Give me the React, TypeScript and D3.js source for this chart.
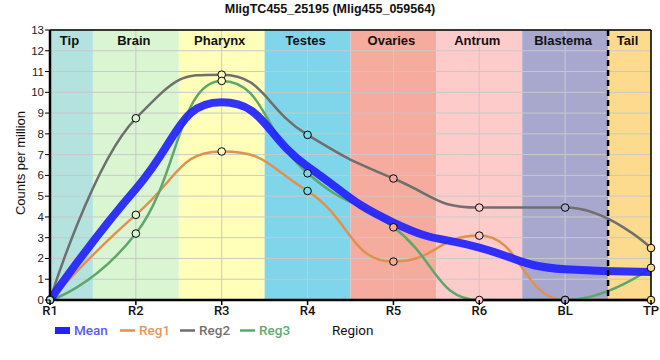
import React from "react";
import * as d3 from "d3";

const categories = ["R1", "R2", "R3", "R4", "R5", "R6", "BL", "TP"];
const reg1 = [0, 4.1, 7.15, 5.25, 1.85, 3.1, 0, 0];
const reg2 = [0, 8.75, 10.85, 7.95, 5.85, 4.45, 4.45, 2.5];
const reg3 = [0, 3.2, 10.55, 6.1, 3.5, 0, 0, 1.55];
const meanVals = [0, 5.35, 9.52, 6.43, 3.73, 2.52, 1.48, 1.35];

const regionNames = ["Tip", "Brain", "Pharynx", "Testes", "Ovaries", "Antrum", "Blastema", "Tail"];
const regionColors = ["#b3e2df", "#d9f5d1", "#ffffb9", "#7fd5ea", "#f5ab9d", "#fecbcb", "#a8a8cf", "#fddb8e"];
const yTicks = d3.range(0, 14);

const series = [
  { name: "Reg1", values: reg1, color: "#e09150", text: "#e8955a" },
  { name: "Reg2", values: reg2, color: "#6f6f6f", text: "#737373" },
  { name: "Reg3", values: reg3, color: "#5ea76b", text: "#62ab70" },
];

const W = 660;
const H = 360;
const left = 50;
const right = 651;
const top = 30;
const bottom = 300;

// smoothed spline: long control handles, kept flat at extremes
function spline(pts: [number, number][]) {
  const sm = 1;
  const p = d3.path();
  p.moveTo(pts[0][0], pts[0][1]);
  let prevRight: [number, number] = pts[0];
  for (let i = 1; i < pts.length; i++) {
    const [x, yv] = pts[i];
    let lc: [number, number] = [x, yv];
    let rc: [number, number] = [x, yv];
    if (i < pts.length - 1) {
      const [lx, ly] = pts[i - 1];
      const [nx, ny] = pts[i + 1];
      let lcx = (sm * x + lx) / (sm + 1);
      let lcy = (sm * yv + ly) / (sm + 1);
      let rcx = (sm * x + nx) / (sm + 1);
      let rcy = (sm * yv + ny) / (sm + 1);
      const corr = ((rcy - lcy) * (rcx - x)) / (rcx - lcx) + yv - rcy;
      lcy += corr;
      rcy += corr;
      if (lcy > ly && lcy > yv) {
        lcy = Math.max(ly, yv);
        rcy = 2 * yv - lcy;
      } else if (lcy < ly && lcy < yv) {
        lcy = Math.min(ly, yv);
        rcy = 2 * yv - lcy;
      }
      if (rcy > ny && rcy > yv) {
        rcy = Math.max(ny, yv);
        lcy = 2 * yv - rcy;
      } else if (rcy < ny && rcy < yv) {
        rcy = Math.min(ny, yv);
        lcy = 2 * yv - rcy;
      }
      lc = [lcx, lcy];
      rc = [rcx, rcy];
    }
    p.bezierCurveTo(prevRight[0], prevRight[1], lc[0], lc[1], x, yv);
    prevRight = rc;
  }
  return p.toString();
}

const App = () => {
  const xi = d3.scaleLinear().domain([0, categories.length - 1]).range([left, right]);
  const y = d3.scaleLinear().domain([0, 13]).range([bottom, top]);

  const path = (vals: number[]) => spline(vals.map((v, i) => [xi(i), y(v)] as [number, number]));

  // region bands, half a step either side of each category
  const bands = regionNames.map((name, i) => ({
    name,
    color: regionColors[i],
    x0: xi(Math.max(0, i - 0.5)),
    x1: xi(Math.min(categories.length - 1, i + 0.5)),
  }));

  return (
    <svg
      width={W}
      height={H}
      style={{ position: "absolute", left: 0, top: 0, background: "#fff" }}
    >
      <text
        x={330}
        y={13}
        textAnchor="middle"
        fontFamily="Liberation Sans, Arial"
        fontWeight="bold"
        fontSize={12.5}
        fill="#111"
      >
        MligTC455_25195 (Mlig455_059564)
      </text>

      {bands.map((b) => (
        <rect key={b.name} x={b.x0} y={top} width={b.x1 - b.x0} height={bottom - top} fill={b.color} />
      ))}

      {/* grid */}
      {yTicks.map((t) => (
        <line key={"h" + t} x1={left} x2={right} y1={y(t)} y2={y(t)} stroke="#c9c9c9" strokeWidth={1} />
      ))}
      {categories.map((c, i) => (
        <line key={"v" + c} x1={xi(i)} x2={xi(i)} y1={top} y2={bottom} stroke="#c9c9c9" strokeWidth={1} />
      ))}

      {bands.map((b) => (
        <text
          key={"l" + b.name}
          x={(b.x0 + b.x1) / 2 - 2}
          y={45}
          textAnchor="middle"
          fontFamily="Liberation Sans, Arial"
          fontWeight="bold"
          fontSize={13}
          fill="#111"
        >
          {b.name}
        </text>
      ))}

      {/* series lines */}
      {series.map((s) => (
        <path key={s.name} d={path(s.values)} fill="none" stroke={s.color} strokeWidth={2.5} />
      ))}
      <path d={path(meanVals)} fill="none" stroke="#2222ff" strokeOpacity={0.92} strokeWidth={8} />

      {/* dashed boundary */}
      <line
        x1={xi(6.5)}
        x2={xi(6.5)}
        y1={top}
        y2={bottom}
        stroke="#000"
        strokeWidth={2.5}
        strokeDasharray="6,4"
      />

      {/* frame */}
      <line x1={left} x2={right} y1={top} y2={top} stroke="#000" strokeWidth={1.5} />
      <line x1={right} x2={right} y1={top} y2={bottom} stroke="#000" strokeWidth={1.5} />
      <line x1={left} x2={left} y1={top} y2={bottom + 1} stroke="#000" strokeWidth={2.5} />
      <line x1={left - 1} x2={right} y1={bottom} y2={bottom} stroke="#000" strokeWidth={2.5} />

      {/* points */}
      {series.map((s) =>
        s.values.map((v, i) => (
          <circle
            key={s.name + i}
            cx={xi(i)}
            cy={y(v)}
            r={3.8}
            fill={regionColors[i]}
            stroke="#000"
            strokeWidth={1}
          />
        ))
      )}

      {/* y axis */}
      {yTicks.map((t) => (
        <g key={"yt" + t}>
          <line x1={left - 5} x2={left} y1={y(t)} y2={y(t)} stroke="#000" strokeWidth={1} />
          <text
            x={left - 6}
            y={y(t) + 4}
            textAnchor="end"
            fontFamily="Liberation Sans, Arial"
            fontSize={11.5}
            fill="#222"
          >
            {t}
          </text>
        </g>
      ))}
      <text
        transform="translate(25,163) rotate(-90)"
        textAnchor="middle"
        fontFamily="Liberation Sans, Arial"
        fontSize={13}
        fill="#111"
      >
        Counts per million
      </text>

      {/* x axis */}
      {categories.map((c, i) => (
        <g key={"xt" + c}>
          <line x1={xi(i)} x2={xi(i)} y1={bottom} y2={bottom + 5} stroke="#000" strokeWidth={1.5} />
          <text
            x={xi(i)}
            y={315}
            textAnchor="middle"
            fontFamily="Roboto"
            fontWeight={500}
            fontSize={13}
            fill="#111"
          >
            {c}
          </text>
        </g>
      ))}

      {/* legend */}
      <rect x={55} y={327} width={15} height={7} fill="#2222ff" />
      <text x={74} y={335} fontFamily="Roboto" fontWeight={500} fontSize={13.5} fill="#5a5aff">
        Mean
      </text>
      {series.map((s, i) => {
        const lx = 120 + i * 60;
        return (
          <g key={"lg" + s.name}>
            <line x1={lx} x2={lx + 15} y1={330.5} y2={330.5} stroke={s.color} strokeWidth={2.5} />
            <text x={lx + 19} y={335} fontFamily="Roboto" fontWeight={500} fontSize={13.5} fill={s.text}>
              {s.name}
            </text>
          </g>
        );
      })}
      <text x={332} y={335} fontFamily="Roboto" fontSize={13.5} fill="#111">
        Region
      </text>
    </svg>
  );
};

export default App;
